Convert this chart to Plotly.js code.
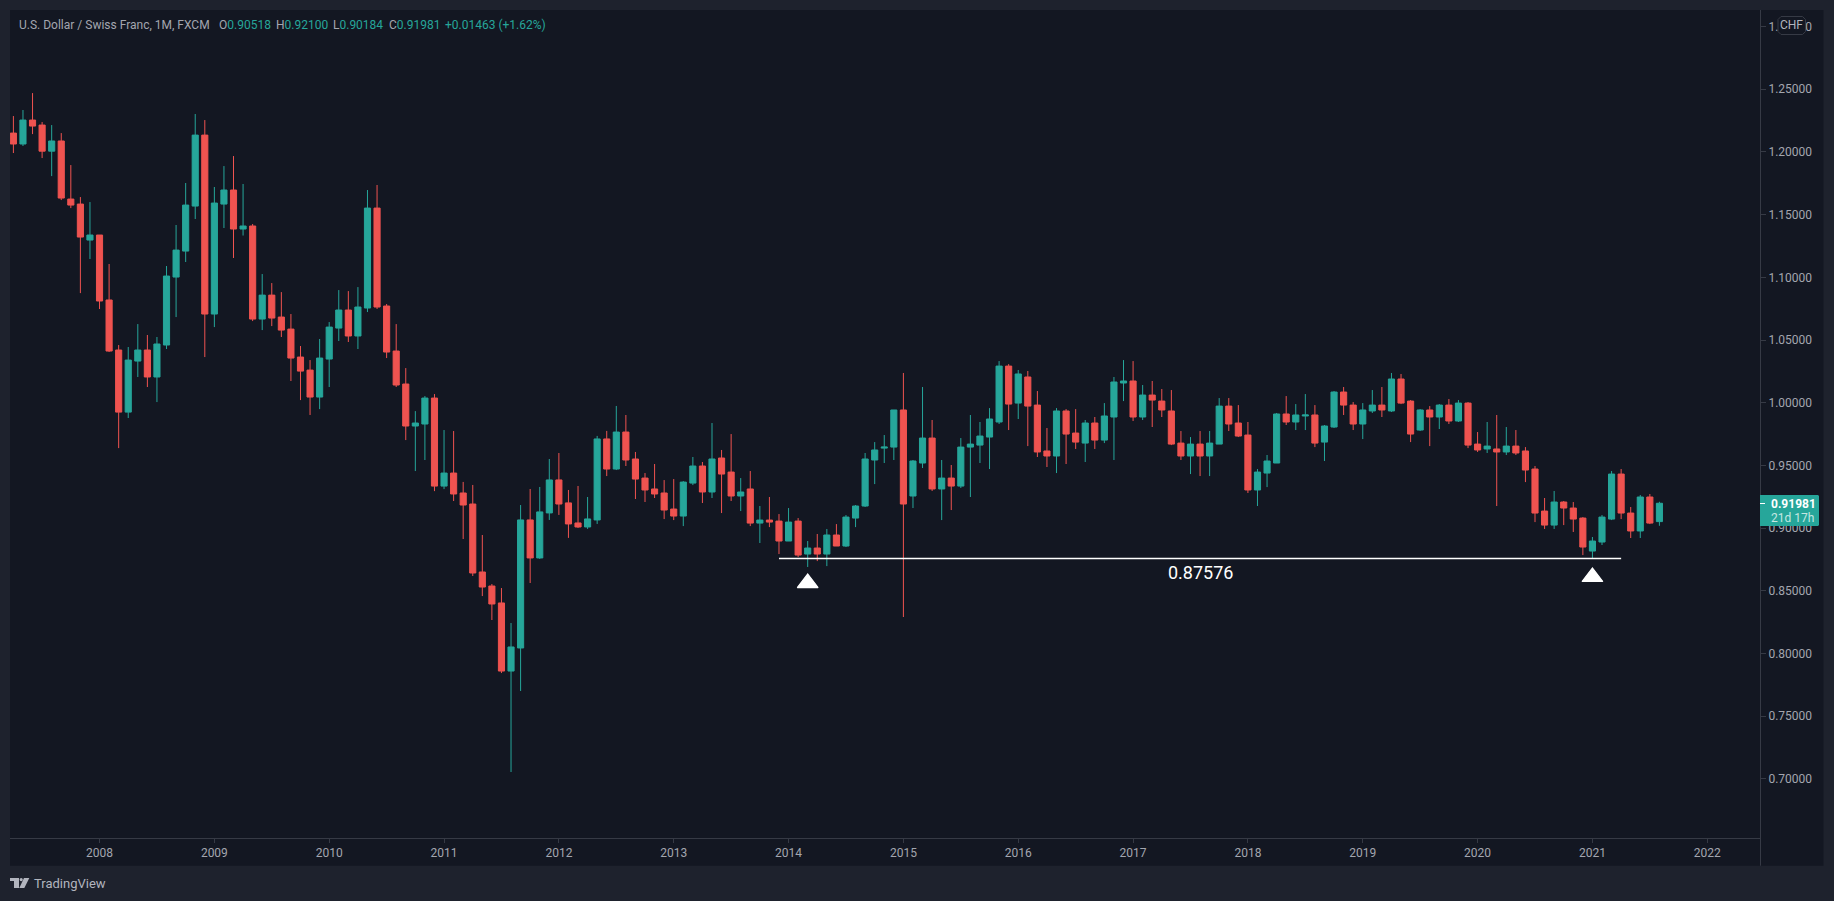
<!DOCTYPE html>
<html>
<head>
<meta charset="utf-8">
<script src="https://cdn.plot.ly/plotly-3.0.1.min.js"></script>
<style>html,body{margin:0;padding:0;background:#1e222d;overflow:hidden}</style>
</head>
<body>
<div id="chart" style="width:1834px;height:901px"></div>
<script>
const yearLabels = ["2008","2009","2010","2011","2012","2013","2014","2015","2016","2017","2018","2019","2020","2021","2022"];
const yearBarIndex = [9,21,33,45,57,69,81,93,105,117,129,141,153,165,177];

const opens = [
1.2150,1.2063,1.2254,1.2214,1.2006,1.2087,1.1624,1.1584,1.1297,1.1337,
1.0819,1.0420,0.9925,1.0332,1.0420,1.0205,1.0460,1.1002,1.1209,1.1568,
1.2134,1.0707,1.1584,1.1696,1.1385,1.1409,1.0667,1.0858,1.0683,1.0587,
1.0364,1.0260,1.0045,1.0348,1.0595,1.0739,1.0532,1.0755,1.1552,1.0771,
1.0412,1.0149,0.9814,0.9830,1.0037,0.9335,0.9439,0.9280,0.9192,0.8650,
0.8538,0.8403,0.7860,0.8044,0.9065,0.8762,0.9121,0.9384,0.9201,0.9041,
0.9009,0.9065,0.9711,0.9471,0.9766,0.9551,0.9399,0.9312,0.9280,0.9152,
0.9096,0.9359,0.9495,0.9288,0.9559,0.9447,0.9256,0.9312,0.9040,0.9064,
0.9056,0.8897,0.9056,0.8793,0.8841,0.8793,0.8945,0.8857,0.9080,0.9176,
0.9543,0.9638,0.9646,0.9942,0.9256,0.9519,0.9718,0.9312,0.9399,0.9335,
0.9646,0.9662,0.9726,0.9846,1.0292,0.9997,1.0205,0.9981,0.9615,0.9575,
0.9934,0.9758,0.9678,0.9838,0.9702,0.9886,1.0157,1.0173,0.9886,1.0061,
1.0013,0.9934,0.9678,0.9575,0.9670,0.9575,0.9670,0.9973,0.9838,0.9742,
0.9304,0.9439,0.9519,0.9910,0.9846,0.9894,0.9902,0.9686,0.9806,1.0085,
0.9981,0.9830,0.9934,0.9981,0.9934,1.0189,1.0013,0.9782,0.9942,0.9886,
0.9981,0.9854,0.9997,0.9670,0.9631,0.9631,0.9607,0.9654,0.9615,0.9471,
0.9136,0.9024,0.9208,0.9160,0.9080,0.8817,0.8889,0.9072,0.9431,0.9120,
0.8977,0.9248,0.90518];

const highs = [
1.2286,1.2334,1.2469,1.2238,1.2214,1.2150,1.1895,1.1640,1.1600,1.1337,
1.1106,1.0460,1.0444,1.0627,1.0540,1.0524,1.1090,1.1417,1.1752,1.2302,
1.2254,1.1720,1.1887,1.1967,1.1744,1.1425,1.1026,1.0954,1.0882,1.0707,
1.0452,1.0340,1.0508,1.0643,1.0898,1.0890,1.0922,1.1696,1.1736,1.0787,
1.0627,1.0276,0.9933,1.0053,1.0069,0.9782,0.9774,0.9368,0.9344,0.8945,
0.8554,0.8522,0.8243,0.9184,0.9312,0.9328,0.9551,0.9599,0.9304,0.9336,
0.9248,0.9735,0.9775,0.9974,0.9902,0.9607,0.9439,0.9511,0.9383,0.9391,
0.9375,0.9567,0.9527,0.9838,0.9623,0.9750,0.9399,0.9455,0.9176,0.9248,
0.9112,0.9160,0.9080,0.8897,0.8953,0.8993,0.9032,0.9104,0.9184,0.9599,
0.9686,0.9742,0.9942,1.0237,0.9543,1.0125,0.9862,0.9543,0.9503,0.9718,
0.9902,0.9846,0.9957,1.0332,1.0308,1.0261,1.0253,1.0093,0.9798,0.9957,
0.9949,0.9949,0.9862,0.9886,0.9997,1.0205,1.0340,1.0332,1.0141,1.0173,
1.0109,1.0101,0.9774,0.9726,0.9774,0.9774,1.0037,1.0037,0.9981,0.9846,
0.9471,0.9583,0.9918,1.0053,0.9989,1.0069,0.9981,0.9822,1.0093,1.0125,
1.0005,0.9997,1.0101,1.0125,1.0237,1.0229,1.0021,0.9949,0.9973,0.9989,
1.0029,1.0021,1.0005,0.9766,0.9846,0.9902,0.9806,0.9782,0.9646,0.9495,
0.9240,0.9296,0.9216,0.9208,0.9088,0.8929,0.9104,0.9455,0.9471,0.9168,
0.9264,0.9272,0.92100];

const lows = [
1.1991,1.2047,1.2142,1.1951,1.1807,1.1616,1.1552,1.0874,1.1146,1.0747,
1.0404,0.9638,0.9878,1.0205,1.0125,1.0005,1.0428,1.0683,1.1122,1.1465,
1.0364,1.0603,1.1393,1.1154,1.1333,1.0651,1.0579,1.0611,1.0524,1.0173,
1.0021,0.9902,0.9949,1.0125,1.0492,1.0484,1.0428,1.0723,1.0747,1.0356,
1.0125,0.9702,0.9455,0.9543,0.9295,0.9311,0.9216,0.8913,0.8618,0.8458,
0.8267,0.7844,0.7055,0.7701,0.8562,0.8754,0.9065,0.9105,0.8922,0.9001,
0.8993,0.9033,0.9415,0.9463,0.9495,0.9232,0.9208,0.9240,0.9072,0.9064,
0.9016,0.9343,0.9200,0.9240,0.9120,0.9216,0.9136,0.9016,0.8881,0.9008,
0.8793,0.8897,0.8769,0.8690,0.8737,0.8697,0.8857,0.8849,0.9008,0.9168,
0.9351,0.9519,0.9543,0.8291,0.9160,0.9479,0.9296,0.9064,0.9144,0.9320,
0.9248,0.9519,0.9471,0.9830,0.9782,0.9870,0.9654,0.9567,0.9487,0.9439,
0.9511,0.9631,0.9527,0.9631,0.9678,0.9543,1.0013,0.9854,0.9862,0.9806,
0.9886,0.9662,0.9543,0.9431,0.9415,0.9415,0.9670,0.9774,0.9726,0.9280,
0.9176,0.9327,0.9519,0.9822,0.9782,0.9782,0.9646,0.9535,0.9798,0.9902,
0.9782,0.9710,0.9918,0.9886,0.9926,0.9989,0.9686,0.9774,0.9654,0.9790,
0.9830,0.9846,0.9638,0.9607,0.9599,0.9176,0.9583,0.9583,0.9367,0.9048,
0.8993,0.8993,0.9024,0.8969,0.8785,0.87576,0.8865,0.9064,0.9072,0.8921,
0.8921,0.9032,0.90184];

const closes = [
1.2063,1.2254,1.2206,1.2006,1.2087,1.1632,1.1576,1.1321,1.1337,1.0811,
1.0412,0.9925,1.0340,1.0420,1.0205,1.0468,1.1010,1.1217,1.1576,1.2134,
1.0707,1.1592,1.1696,1.1385,1.1409,1.0667,1.0858,1.0675,1.0579,1.0356,
1.0252,1.0045,1.0356,1.0603,1.0739,1.0532,1.0763,1.1552,1.0763,1.0404,
1.0141,0.9814,0.9838,1.0037,0.9335,0.9439,0.9272,0.9184,0.8642,0.8530,
0.8395,0.7860,0.8052,0.9065,0.8762,0.9129,0.9384,0.9192,0.9033,0.9009,
0.9073,0.9711,0.9471,0.9766,0.9543,0.9391,0.9304,0.9272,0.9144,0.9096,
0.9367,0.9495,0.9288,0.9551,0.9431,0.9256,0.9288,0.9040,0.9064,0.9048,
0.8897,0.9048,0.8785,0.8841,0.8793,0.8945,0.8857,0.9088,0.9176,0.9551,
0.9623,0.9646,0.9942,0.9192,0.9535,0.9718,0.9312,0.9399,0.9335,0.9646,
0.9670,0.9734,0.9870,1.0292,0.9989,1.0229,0.9973,0.9607,0.9575,0.9934,
0.9750,0.9686,0.9838,0.9702,0.9894,1.0165,1.0173,0.9886,1.0061,1.0021,
0.9942,0.9670,0.9575,0.9670,0.9575,0.9678,0.9973,0.9830,0.9734,0.9304,
0.9447,0.9535,0.9910,0.9846,0.9902,0.9902,0.9678,0.9814,1.0085,0.9981,
0.9830,0.9942,0.9981,0.9942,1.0189,0.9997,0.9750,0.9942,0.9886,0.9981,
0.9854,0.9997,0.9662,0.9623,0.9654,0.9607,0.9654,0.9599,0.9463,0.9120,
0.9024,0.9208,0.9160,0.9072,0.8849,0.8897,0.9088,0.9431,0.9120,0.8977,
0.9248,0.9040,0.91981];

const supportLevel = 0.87576;
const supportBars = [80, 168];
const markerBars = [83, 165];
const markerPrices = [0.8562, 0.8610];

const TEAL = "#26a69a", RED = "#ef5350", PANE = "#131722", FRAME = "#1e222d",
      AXIS = "#363a45", TEXT = "#a3a6af", FONT = "Roboto, sans-serif";

const barIndex = opens.map((_, i) => i);

const traces = [
  {
    type: "candlestick", x: barIndex, open: opens, high: highs, low: lows, close: closes,
    increasing: {line: {color: TEAL, width: 1}, fillcolor: TEAL},
    decreasing: {line: {color: RED, width: 1}, fillcolor: RED},
    whiskerwidth: 0, showlegend: false, hoverinfo: "skip"
  },
  {
    type: "scatter", mode: "lines", x: supportBars, y: [supportLevel, supportLevel],
    line: {color: "#ffffff", width: 1.4}, showlegend: false, hoverinfo: "skip"
  },
  {
    type: "scatter", mode: "markers", x: markerBars, y: markerPrices,
    marker: {symbol: "triangle-up", size: 18, color: "#ffffff", line: {color: "#ffffff", width: 1.2}},
    showlegend: false, hoverinfo: "skip"
  }
];

// Pixel helpers for chrome (frame, badges, captions) in paper coordinates.
const fx = px => (px - 10) / 1750;
const fy = py => (838 - py) / 828;
const rect = (x0, y0, x1, y1, fill, layer) => ({
  type: "rect", xref: "paper", yref: "paper", layer: layer || "below",
  x0: fx(x0), x1: fx(x1), y0: fy(y1), y1: fy(y0), fillcolor: fill, line: {width: 0}
});
const pathOf = pts => pts.map(s => s[0] + (s.length > 1 ? fx(s[1]) + "," + fy(s[2]) : "")).join(" ");
const poly = (pts, fill, layer, lineColor) => ({
  type: "path", xref: "paper", yref: "paper", layer: layer || "above",
  path: pathOf(pts), fillcolor: fill, line: lineColor ? {color: lineColor, width: 1} : {width: 0}
});
const roundBox = (x0, y0, x1, y1, r, fill, lineColor) => poly([
  ["M", x0 + r, y0], ["L", x1 - r, y0],
  ["L", x1, y0 + r], ["L", x1, y1 - r], ["L", x1 - r, y1],
  ["L", x0 + r, y1], ["L", x0, y1 - r], ["L", x0, y0 + r], ["Z"]
], fill, "above", lineColor);
const label = (px, py, text, color, size, extra) => Object.assign({
  xref: "paper", yref: "paper", x: fx(px), y: fy(py), text: text, showarrow: false,
  xanchor: "left", yanchor: "middle", borderpad: 0,
  font: {family: FONT, size: size || 12, color: color}
}, extra || {});

const shapes = [
  rect(10, 10, 1823.5, 865.7, PANE, "below"),
  {type: "line", xref: "paper", yref: "paper", layer: "above",
   x0: fx(1760.5), x1: fx(1760.5), y0: fy(10), y1: fy(865.7), line: {color: AXIS, width: 1}},
  roundBox(1778, 16.5, 1805.5, 34.5, 3, PANE, AXIS),
  poly([["M", 1760, 495], ["L", 1818, 495], ["L", 1819, 496], ["L", 1819, 525], ["L", 1818, 526], ["L", 1760, 526], ["Z"]], TEAL),
  {type: "line", xref: "paper", yref: "paper", layer: "above",
   x0: fx(1760), x1: fx(1765), y0: fy(503.5), y1: fy(503.5), line: {color: "#ffffff", width: 1}},
  // TradingView logo
  poly([["M", 10, 878], ["L", 19, 878], ["L", 19, 888], ["L", 14, 888], ["L", 14, 881], ["L", 10, 881], ["Z"]], "#b2b5be"),
  {type: "circle", xref: "paper", yref: "paper", layer: "above",
   x0: fx(19.6), x1: fx(22.8), y0: fy(881.2), y1: fy(878), fillcolor: "#b2b5be", line: {width: 0}},
  poly([["M", 24, 878], ["L", 29.3, 878], ["L", 24.3, 888], ["L", 19.3, 888], ["Z"]], "#b2b5be")
];

const annotations = [
  label(18, 25, "U.S. Dollar / Swiss Franc, 1M, FXCM", TEXT, 12),
  label(217.5, 25, "O<span style='color:#26a69a'>0.90518</span>", TEXT, 12),
  label(274.8, 25, "H<span style='color:#26a69a'>0.92100</span>", TEXT, 12),
  label(332, 25, "L<span style='color:#26a69a'>0.90184</span>", TEXT, 12),
  label(387.5, 25, "C<span style='color:#26a69a'>0.91981</span>", TEXT, 12),
  label(444, 25, "+0.01463 (+1.62%)", TEAL, 12),
  label(1200, 572.5, "0.87576", "#ffffff", 18, {xanchor: "center"}),
  label(1791.8, 25.5, "CHF", "#b2b5be", 12, {xanchor: "center"}),
  label(1770, 503.5, "<b>0.91981</b>", "#ffffff", 12),
  label(1770, 517.5, "21d 17h", "#c4e6e2", 12),
  label(33, 883, "TradingView", "#b2b5be", 13)
];

const layout = {
  width: 1834, height: 901,
  margin: {l: 10, r: 74, t: 10, b: 63, pad: 0},
  paper_bgcolor: FRAME, plot_bgcolor: PANE,
  boxmode: "group", boxgroupgap: 0, boxgap: 0.36,
  showlegend: false, dragmode: false,
  font: {family: FONT, size: 12, color: TEXT},
  xaxis: {
    type: "linear", range: [-0.355, 182.51], rangeslider: {visible: false},
    tickmode: "array", tickvals: yearBarIndex, ticktext: yearLabels,
    showgrid: false, zeroline: false, showline: true, linecolor: AXIS, linewidth: 1,
    ticks: "outside", ticklen: 4, tickcolor: AXIS, tickwidth: 1,
    tickfont: {family: FONT, size: 12, color: TEXT}
  },
  yaxis: {
    type: "linear", side: "right", range: [0.65287, 1.31316],
    tick0: 1, dtick: 0.05, tickformat: ".5f",
    showgrid: false, zeroline: false, showline: false,
    ticks: "outside", ticklen: 5, tickcolor: AXIS, tickwidth: 1,
    tickfont: {family: FONT, size: 12, color: TEXT}
  },
  shapes: shapes,
  annotations: annotations
};

Plotly.newPlot("chart", traces, layout, {displayModeBar: false, responsive: false});
</script>
</body>
</html>
